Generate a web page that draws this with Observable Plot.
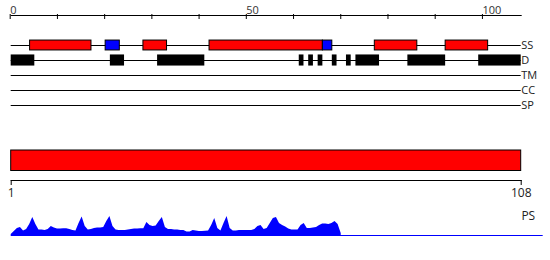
<!DOCTYPE html>
<html><head><meta charset="utf-8">
<script src="https://cdn.jsdelivr.net/npm/d3@7"></script>
<script src="https://cdn.jsdelivr.net/npm/@observablehq/plot@0.6"></script>
<style>
body{margin:0;background:#fff;}
#chart svg{display:block;}
</style></head><body><div id="chart"></div>
<script>
const seqLength = 108;
const tracks = ["SS","D","TM","CC","SP"];
const topTicks = [0,10,20,30,40,50,60,70,80,90,100];
const topLabels = [0,50,100];
const ssStart = [4,20,28,42,66,77,92];
const ssEnd   = [17,23,33,66,68,86,101];
const ssType  = ["helix","strand","helix","helix","strand","helix","helix"];
const dStart = [0,21,31,61,63,65,68,71,73,84,99];
const dEnd   = [5,24,41,62,64,66,69,72,78,92,108];
const domStart = [1];
const domEnd = [108];
const psScores = [0.05,0.2,0.35,0.4,0.22,0.3,0.55,0.9,0.55,0.28,
  0.28,0.25,0.3,0.45,0.38,0.33,0.33,0.34,0.34,0.3,
  0.25,0.22,0.6,0.93,0.45,0.28,0.3,0.35,0.38,0.38,
  0.4,0.7,0.95,0.45,0.28,0.25,0.25,0.25,0.28,0.3,
  0.32,0.33,0.34,0.34,0.65,0.5,0.45,0.47,0.7,0.9,
  0.4,0.3,0.3,0.28,0.28,0.25,0.25,0.18,0.18,0.25,
  0.22,0.2,0.2,0.21,0.22,0.5,0.85,0.35,0.22,0.6,
  0.95,0.35,0.22,0.22,0.25,0.25,0.25,0.25,0.25,0.3,
  0.45,0.5,0.3,0.35,0.6,0.85,0.9,0.6,0.5,0.42,
  0.33,0.28,0.28,0.28,0.5,0.6,0.35,0.35,0.38,0.4,
  0.5,0.58,0.58,0.55,0.6,0.7,0.55,0.1];

const ss = ssStart.map((s,i)=>({start:s,end:ssEnd[i],type:ssType[i]}));
const dis = dStart.map((s,i)=>({start:s,end:dEnd[i]}));
const dom = domStart.map((s,i)=>({start:s,end:domEnd[i]}));
const font = {fontFamily:"'Open Sans'", fontSize:"12px", color:"black", background:"white", overflow:"visible"};

const plotA = Plot.plot({
  width:550, height:115, marginTop:15, marginBottom:0, marginLeft:10.7, marginRight:29.3,
  style:font,
  x:{domain:[0,seqLength], label:null},
  y:{domain:[0,4], range:[45,105], axis:null},
  color:{domain:["helix","strand"], range:["#ff0000","#0000ff"]},
  marks:[
    Plot.frame({anchor:"top"}),
    Plot.axisX({anchor:"top", ticks:topTicks, tickSize:5, tickPadding:0, label:null,
      tickFormat:d=>topLabels.includes(d)?String(d):"", textAnchor:"start", dx:-1, dy:3, fontSize:11, fill:"#333"}),
    Plot.ruleY(tracks,{y:(d,i)=>i, stroke:"black"}),
    Plot.rect(dis,{x1:"start", x2:"end", y1:()=>1-0.37, y2:()=>1+0.37, fill:"black"}),
    Plot.rect(ss,{x1:"start", x2:"end", y1:()=>-0.33, y2:()=>0.33, fill:"type", stroke:"black"}),
    Plot.text(tracks,{y:(d,i)=>i, text:d=>d, frameAnchor:"right", textAnchor:"start", dx:0, fontSize:11, fill:"#222"})
  ]
});

const plotB = Plot.plot({
  width:550, height:85, marginTop:35, marginBottom:20, marginLeft:10.7, marginRight:29.3,
  style:font,
  x:{domain:[1,seqLength], label:null},
  marks:[
    Plot.barX(dom,{x1:"start", x2:"end", fill:"#ff0000", stroke:"black", insetBottom:9.5}),
    Plot.frame({anchor:"bottom"}),
    Plot.axisX({anchor:"bottom", ticks:[1,seqLength], tickSize:5, tickPadding:3, label:null, fill:"#222"})
  ]
});

const plotC = Plot.plot({
  width:550, height:60, marginTop:15, marginBottom:25, marginLeft:10.7, marginRight:7.3,
  style:font,
  x:{domain:[1,seqLength], range:[10.7,340.7], axis:null},
  y:{domain:[0,1], axis:null},
  marks:[
    Plot.areaY(psScores,{x:(d,i)=>i+1, y:d=>d, fill:"#0000ff"}),
    Plot.ruleY([0],{stroke:"#0000ff"}),
    Plot.text(["PS"],{text:d=>d, frameAnchor:"top-right", textAnchor:"end", dx:-8, dy:-4, fill:"#222"})
  ]
});

const root = document.getElementById("chart");
root.append(plotA, plotB, plotC);
</script></body></html>
